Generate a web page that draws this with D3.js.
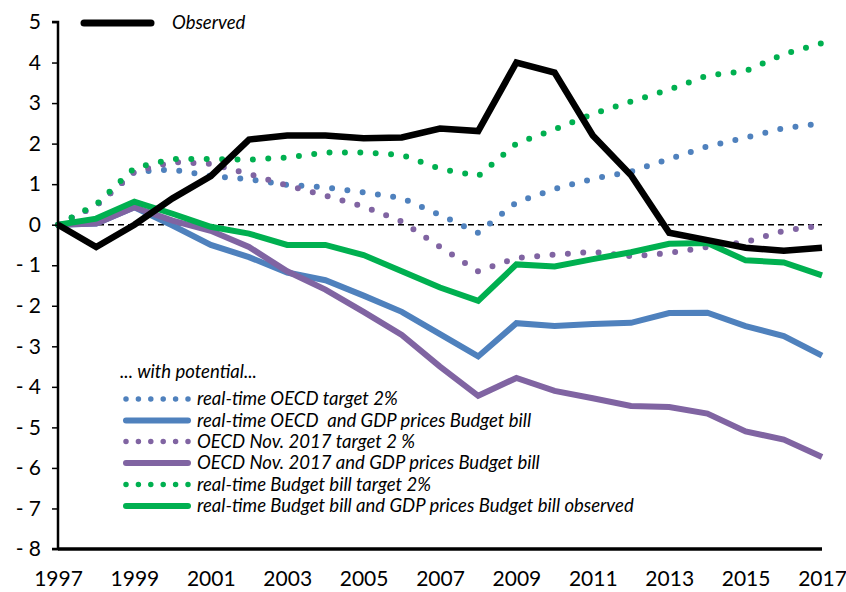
<!DOCTYPE html>
<html>
<head>
<meta charset="utf-8">
<script src="https://cdn.jsdelivr.net/npm/d3@7"></script>
<style>
  html, body { margin: 0; padding: 0; background: #fff; }
  svg text { font-family: Lato, "Open Sans", sans-serif; fill: #000; white-space: pre; }
</style>
</head>
<body>
<svg id="chart" width="846" height="592"></svg>
<script>
const years = [1997,1998,1999,2000,2001,2002,2003,2004,2005,2006,2007,2008,2009,2010,2011,2012,2013,2014,2015,2016,2017];
const observed   = [0,-0.55,0.0,0.65,1.2,2.1,2.2,2.2,2.13,2.15,2.37,2.31,4.0,3.75,2.2,1.22,-0.2,-0.38,-0.57,-0.64,-0.57];
const oecdRtTarget = [0,0.47,1.3,1.36,1.2,1.12,0.98,0.92,0.8,0.66,0.24,-0.2,0.55,0.88,1.13,1.31,1.62,1.93,2.15,2.38,2.5];
const oecdRtBudget = [0,0.03,0.43,-0.02,-0.5,-0.8,-1.18,-1.37,-1.75,-2.15,-2.7,-3.25,-2.43,-2.5,-2.45,-2.42,-2.18,-2.17,-2.5,-2.75,-3.23];
const oecdNovTarget = [0,0.47,1.3,1.55,1.5,1.25,0.97,0.72,0.45,0.08,-0.55,-1.15,-0.82,-0.74,-0.67,-0.78,-0.7,-0.55,-0.43,-0.15,-0.02];
const oecdNovBudget = [0,0.03,0.43,0.1,-0.15,-0.55,-1.15,-1.6,-2.15,-2.72,-3.5,-4.22,-3.78,-4.1,-4.28,-4.47,-4.5,-4.66,-5.1,-5.3,-5.73];
const budgetTarget = [0,0.5,1.4,1.62,1.62,1.6,1.66,1.78,1.78,1.72,1.38,1.2,2.0,2.35,2.73,3.04,3.33,3.68,3.79,4.21,4.48];
const budgetObserved = [0,0.15,0.57,0.27,-0.05,-0.22,-0.5,-0.5,-0.75,-1.15,-1.55,-1.88,-0.98,-1.03,-0.85,-0.68,-0.47,-0.45,-0.88,-0.93,-1.25];
const yTicks = [5,4,3,2,1,0,-1,-2,-3,-4,-5,-6,-7,-8];
const xTicks = [1997,1999,2001,2003,2005,2007,2009,2011,2013,2015,2017];

const series = [
  {name: "real-time OECD target 2%", values: oecdRtTarget, color: "#4F81BD", dotted: true},
  {name: "real-time OECD  and GDP prices Budget bill", values: oecdRtBudget, color: "#4F81BD", dotted: false},
  {name: "OECD Nov. 2017 target 2 %", values: oecdNovTarget, color: "#8064A2", dotted: true},
  {name: "OECD Nov. 2017 and GDP prices Budget bill", values: oecdNovBudget, color: "#8064A2", dotted: false},
  {name: "real-time Budget bill target 2%", values: budgetTarget, color: "#00B050", dotted: true},
  {name: "real-time Budget bill and GDP prices Budget bill observed", values: budgetObserved, color: "#00B050", dotted: false}
];

const svg = d3.select("#chart");
const x = d3.scaleLinear().domain([1997, 2017]).range([58, 822]);
const y = d3.scaleLinear().domain([-8, 5]).range([549, 22]);

// zero dashed line
svg.append("line")
  .attr("x1", x(1997)).attr("x2", x(2017))
  .attr("y1", y(0)).attr("y2", y(0))
  .attr("stroke", "#000").attr("stroke-width", 1.5)
  .attr("stroke-dasharray", "6 4");

const line = d3.line().x((d, i) => x(years[i])).y(d => y(d));

function styleLine(sel, s) {
  sel.attr("fill", "none")
    .attr("stroke", s.color)
    .attr("stroke-width", 6)
    .attr("stroke-linejoin", "round")
    .attr("stroke-linecap", "round");
  if (s.dotted) sel.attr("stroke-dasharray", "0 15.4");
  else sel.attr("stroke-linecap", "butt").attr("stroke-linejoin", "miter");
}

series.forEach(s => {
  svg.append("path").datum(s.values).attr("d", line).call(styleLine, s);
});

svg.append("path").datum(observed).attr("d", line)
  .attr("fill", "none").attr("stroke", "#000").attr("stroke-width", 6.5)
  .attr("stroke-linejoin", "miter");

// axes
const yAxis = d3.axisLeft(y).tickValues(yTicks).tickSize(6)
  .tickFormat(d => d < 0 ? "- " + Math.abs(d) : String(d));
const gy = svg.append("g").attr("transform", `translate(${x(1997)},0)`).call(yAxis);
gy.select(".domain").attr("stroke", "#000").attr("stroke-width", 2.5).attr("d", `M-6,${y(-8)}H0V${y(5)}H-6`);
gy.selectAll(".tick line").attr("stroke", "#000").attr("stroke-width", 1.5);
gy.selectAll(".tick text").attr("x", -17).attr("font-size", 21).attr("font-family", "Lato, sans-serif");

svg.append("line")
  .attr("x1", x(1997)).attr("x2", x(2017))
  .attr("y1", y(-8)).attr("y2", y(-8))
  .attr("stroke", "#000").attr("stroke-width", 3.5);

const gx = svg.append("g").attr("transform", `translate(0,${y(-8)})`)
  .call(d3.axisBottom(x).tickValues(xTicks).tickFormat(d3.format("d")).tickSize(0));
gx.select(".domain").remove();
gx.selectAll(".tick text").attr("y", 22).attr("font-size", 21).attr("font-family", "Lato, sans-serif");

// legend texts
const legendTexts = [];
svg.append("line").attr("x1", 84).attr("x2", 151).attr("y1", 23).attr("y2", 23)
  .attr("stroke", "#000").attr("stroke-width", 7).attr("stroke-linecap", "round");
legendTexts.push(svg.append("text").attr("x", 172).attr("y", 23).attr("dy", "0.35em")
  .attr("font-style", "italic").text("Observed"));

legendTexts.push(svg.append("text").attr("x", 120).attr("y", 372).attr("dy", "0.35em")
  .attr("font-style", "italic").text("... with potential..."));
const rowY = [399, 420.5, 441.5, 463, 484.5, 506];
let longest = null;
series.forEach((s, i) => {
  const l = svg.append("line").attr("x1", 126).attr("x2", 188)
    .attr("y1", rowY[i]).attr("y2", rowY[i]);
  styleLine(l, s);
  if (s.dotted) l.attr("stroke-dasharray", "0 12.4").attr("stroke-width", 5.5);
  else l.attr("stroke-linecap", "round");
  const t = svg.append("text").attr("x", 197).attr("y", rowY[i]).attr("dy", "0.35em")
    .attr("font-style", "italic").text(s.name);
  legendTexts.push(t);
  if (i === 5) longest = t;
});
// fit font size so the longest legend entry spans like the reference (~437px)
legendTexts.forEach(t => t.attr("font-size", 16));
const w = longest.node().getComputedTextLength();
const fs = Math.min(19, 16 * 437 / w);
legendTexts.forEach(t => t.attr("font-size", fs));
</script>
</body>
</html>
